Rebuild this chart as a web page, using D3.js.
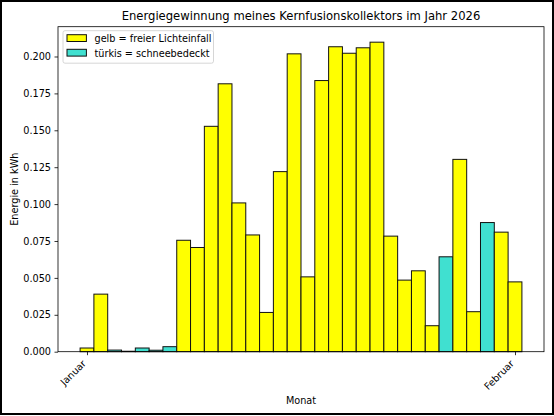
<!DOCTYPE html>
<html>
<head>
<meta charset="utf-8">
<script src="https://cdn.jsdelivr.net/npm/d3@7"></script>
<style>
  body { margin: 0; background: #fff; }
  svg { font-family: "DejaVu Sans", sans-serif; display: block; }
</style>
</head>
<body>
<svg id="chart"></svg>
<script>
// Tage im Januar + 1. Februar 2026
var tage = [
  "2026-01-01","2026-01-02","2026-01-03","2026-01-04","2026-01-05","2026-01-06","2026-01-07","2026-01-08",
  "2026-01-09","2026-01-10","2026-01-11","2026-01-12","2026-01-13","2026-01-14","2026-01-15","2026-01-16",
  "2026-01-17","2026-01-18","2026-01-19","2026-01-20","2026-01-21","2026-01-22","2026-01-23","2026-01-24",
  "2026-01-25","2026-01-26","2026-01-27","2026-01-28","2026-01-29","2026-01-30","2026-01-31","2026-02-01"
];
// Energie in kWh
var energie = [
  0.0025, 0.039, 0.0011, 0.0003, 0.0025, 0.001, 0.0034, 0.0755,
  0.0706, 0.1527, 0.1815, 0.1008, 0.0791, 0.0266, 0.122, 0.2018,
  0.0507, 0.1837, 0.2066, 0.2022, 0.2059, 0.2097, 0.0783, 0.0485,
  0.0548, 0.0176, 0.0643, 0.1303, 0.0271, 0.0875, 0.081, 0.0473
];
// 1 = schneebedeckt, 0 = freier Lichteinfall
var schnee = [
  0, 0, 1, 1, 1, 1, 1, 0,
  0, 0, 0, 0, 0, 0, 0, 0,
  0, 0, 0, 0, 0, 0, 0, 0,
  0, 0, 1, 0, 0, 1, 0, 0
];
var monatTicks = ["2026-01-01", "2026-02-01"];
var monatNamen = ["Januar", "Februar"];
var yTicks = [0, 0.025, 0.05, 0.075, 0.1, 0.125, 0.15, 0.175, 0.2];
var legende = ["gelb = freier Lichteinfall", "türkis = schneebedeckt"];

var W = 554, H = 416;
var margin = { top: 26.7, right: 10, bottom: 64.3, left: 58 },
    w = W - margin.left - margin.right,
    h = H - margin.top - margin.bottom;

var farben = ["#ffff00", "#40e0d0"];
var parse = d3.utcParse("%Y-%m-%d");
var DAY = 864e5;

var data = tage.map(function (t, i) {
  return { datum: parse(t), wert: energie[i], schnee: schnee[i] };
});

var svg = d3.select("#chart").attr("width", W).attr("height", H);

// figure frame
svg.append("rect")
  .attr("x", 1).attr("y", 1).attr("width", W - 2).attr("height", H - 3)
  .attr("fill", "#fff").attr("stroke", "#000").attr("stroke-width", 2);

var g = svg.append("g").attr("transform", `translate(${margin.left}, ${margin.top})`);

// x: Tage, 5% Rand wie bei matplotlib
var ext = d3.extent(data, d => d.datum);
var lo = +ext[0] - DAY / 2, hi = +ext[1] + DAY / 2, pad = (hi - lo) * 0.05;
var x = d3.scaleUtc().domain([new Date(lo - pad), new Date(hi + pad)]).range([0, w]);

var yMax = d3.max(energie) * 1.05;
var y = d3.scaleLinear().domain([0, yMax]).range([h, 0]);

// bars
g.selectAll("rect.bar")
  .data(data)
  .join("rect")
  .attr("class", "bar")
  .attr("x", d => x(new Date(+d.datum - DAY / 2)))
  .attr("width", d => x(new Date(+d.datum + DAY / 2)) - x(new Date(+d.datum - DAY / 2)))
  .attr("y", d => y(d.wert))
  .attr("height", d => h - y(d.wert))
  .attr("fill", d => farben[d.schnee])
  .attr("stroke", "#111")
  .attr("stroke-width", 1);

// Y axis
var yAxis = g.append("g")
  .call(d3.axisLeft(y).tickValues(yTicks).tickFormat(d3.format(".3f"))
    .tickSize(3.5).tickPadding(3.5).tickSizeOuter(0));
yAxis.select(".domain").remove();

// X axis
var xAxis = g.append("g")
  .attr("transform", `translate(0, ${h})`)
  .call(d3.axisBottom(x).tickValues(monatTicks.map(parse))
    .tickFormat((d, i) => monatNamen[i]).tickSize(3.5).tickSizeOuter(0));
xAxis.select(".domain").remove();
xAxis.selectAll("text")
  .attr("y", null).attr("dy", null)
  .attr("text-anchor", "end")
  .attr("transform", "translate(-1, 12.5) rotate(-45)");

g.selectAll(".tick line").attr("stroke", "#000").attr("stroke-width", 0.8);
g.selectAll(".tick text").attr("font-size", 9.7).attr("fill", "#000")
  .attr("font-family", "DejaVu Sans, sans-serif");

// spines
g.append("rect")
  .attr("width", w).attr("height", h)
  .attr("fill", "none").attr("stroke", "#000").attr("stroke-width", 0.8);

// title + labels
svg.append("text")
  .attr("x", margin.left + w / 2).attr("y", 20)
  .attr("text-anchor", "middle").attr("font-size", 11.6)
  .text("Energiegewinnung meines Kernfusionskollektors im Jahr 2026");

svg.append("text")
  .attr("x", margin.left + w / 2).attr("y", 404)
  .attr("text-anchor", "middle").attr("font-size", 9.7)
  .text("Monat");

svg.append("text")
  .attr("transform", `translate(18, ${margin.top + h / 2}) rotate(-90)`)
  .attr("text-anchor", "middle").attr("font-size", 9.7)
  .text("Energie in kWh");

// legend
var leg = g.append("g").attr("transform", "translate(5, 4)");
leg.append("rect")
  .attr("width", 150.5).attr("height", 32.5).attr("rx", 2)
  .attr("fill", "#fff").attr("fill-opacity", 0.8)
  .attr("stroke", "#ccc").attr("stroke-width", 0.8);
var items = leg.selectAll("g.item")
  .data(legende)
  .join("g")
  .attr("class", "item")
  .attr("transform", (d, i) => `translate(4, ${4 + i * 14.6})`);
items.append("rect")
  .attr("width", 19.4).attr("height", 6.8)
  .attr("fill", (d, i) => farben[i])
  .attr("stroke", "#111").attr("stroke-width", 1);
items.append("text")
  .attr("x", 27.5).attr("y", 7.5)
  .attr("font-size", 9.7)
  .text(d => d);
</script>
</body>
</html>
